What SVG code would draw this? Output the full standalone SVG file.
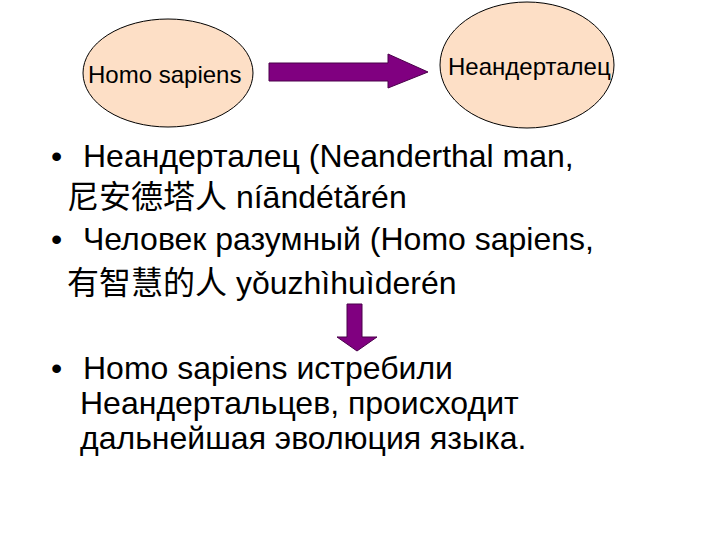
<svg xmlns="http://www.w3.org/2000/svg" width="720" height="540" viewBox="0 0 720 540">
<style>
.node ellipse{fill:#fddfc6;stroke:#000;stroke-width:1}
.lbl{font-family:"Liberation Sans","Noto Sans CJK SC",Arial,sans-serif;font-size:24px;fill:#000}
.body{font-family:"Liberation Sans","Noto Sans CJK SC",Arial,sans-serif;font-size:32px;fill:#000}
.arrow{fill:#800080;stroke:#4a004a;stroke-width:1}
</style>
<rect width="720" height="540" fill="#fff"/>
<g id="node-homo-sapiens" class="node">
<ellipse cx="168" cy="73" rx="85" ry="54"/>
<text class="lbl" x="88" y="83">Homo sapiens</text>
</g>
<g id="node-neanderthal" class="node">
<ellipse cx="527" cy="65" rx="87" ry="63"/>
<text class="lbl" x="448" y="75">Неандерталец</text>
</g>
<g id="connectors">
<polygon class="arrow" points="269,63 388,63 388,54 428,72 388,88 388,81 269,81"/>
<polygon class="arrow" points="347,304 362,304 362,337 377,337 357,351 337,337 347,337"/>
</g>
<g id="text">
<text class="body" x="51" y="167">•</text>
<text class="body" x="83" y="167">Неандерталец (Neanderthal man,</text>
<text class="body" x="67" y="208">尼安德塔人 níāndétǎrén</text>
<text class="body" x="51" y="250">•</text>
<text class="body" x="83" y="250">Человек разумный (Homo sapiens,</text>
<text class="body" x="67" y="294">有智慧的人 yǒuzhìhuìderén</text>
<text class="body" x="51" y="379">•</text>
<text class="body" x="83" y="379">Homo sapiens истребили</text>
<text class="body" x="80" y="414">Неандертальцев, происходит</text>
<text class="body" x="80" y="449">дальнейшая эволюция языка.</text>
</g>
</svg>
